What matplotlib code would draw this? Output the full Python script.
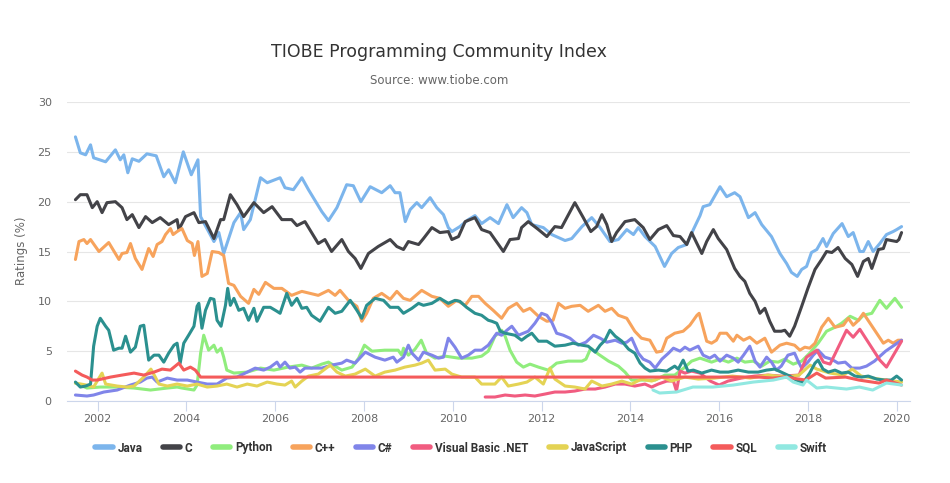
import matplotlib
matplotlib.use("Agg")
import matplotlib.pyplot as plt

# (decimal year, rating %)
java = [(2001.50, 26.5), (2001.61, 24.9), (2001.73, 24.7), (2001.84, 25.7), (2001.91, 24.4), (2002.18, 24.0),
        (2002.40, 25.2), (2002.51, 24.2), (2002.59, 24.7), (2002.68, 22.9), (2002.78, 24.3), (2002.93, 24.05),
        (2003.11, 24.8), (2003.32, 24.6), (2003.49, 22.5), (2003.60, 23.2), (2003.75, 21.9), (2003.93, 25.0),
        (2004.11, 22.7), (2004.26, 24.2), (2004.32, 18.5), (2004.39, 17.9), (2004.62, 16.0), (2004.73, 16.9),
        (2004.84, 14.8), (2005.07, 17.9), (2005.22, 18.9), (2005.29, 17.2), (2005.44, 18.2), (2005.67, 22.4),
        (2005.82, 21.9), (2006.11, 22.4), (2006.22, 21.4), (2006.41, 21.2), (2006.60, 22.4), (2006.75, 21.2),
        (2007.05, 19.0), (2007.20, 18.1), (2007.39, 19.4), (2007.61, 21.7), (2007.76, 21.6), (2007.93, 20.0),
        (2008.14, 21.5), (2008.40, 20.9), (2008.59, 21.6), (2008.70, 20.9), (2008.81, 20.9), (2008.93, 18.0),
        (2009.04, 19.2), (2009.19, 19.9), (2009.30, 19.4), (2009.49, 20.4), (2009.64, 19.4), (2009.79, 18.7),
        (2009.90, 17.4), (2009.98, 17.0), (2010.16, 17.5), (2010.35, 18.2), (2010.50, 18.6), (2010.65, 17.8),
        (2010.84, 18.4), (2011.03, 17.8), (2011.22, 19.7), (2011.36, 18.4), (2011.55, 19.4), (2011.67, 18.9),
        (2011.78, 17.7), (2012.04, 17.4), (2012.23, 16.7), (2012.53, 16.1), (2012.68, 16.3), (2012.91, 17.5),
        (2013.13, 18.4), (2013.32, 17.4), (2013.54, 16.0), (2013.73, 16.2), (2013.92, 17.2), (2014.07, 16.7),
        (2014.18, 17.4), (2014.33, 16.5), (2014.56, 15.5), (2014.77, 13.5), (2014.93, 14.8), (2015.08, 15.4),
        (2015.27, 15.7), (2015.42, 17.2), (2015.57, 18.6), (2015.64, 19.5), (2015.79, 19.7), (2016.02, 21.5),
        (2016.17, 20.5), (2016.35, 20.9), (2016.47, 20.5), (2016.66, 18.4), (2016.81, 18.9), (2016.96, 17.7),
        (2017.18, 16.5), (2017.37, 14.8), (2017.52, 13.8), (2017.63, 12.9), (2017.76, 12.5), (2017.86, 13.2),
        (2017.97, 13.5), (2018.08, 14.9), (2018.20, 15.2), (2018.34, 16.3), (2018.42, 15.5), (2018.57, 16.8),
        (2018.77, 17.8), (2018.91, 16.5), (2019.02, 16.9), (2019.17, 15.0), (2019.25, 15.0), (2019.36, 16.0),
        (2019.47, 15.0), (2019.62, 15.8), (2019.77, 16.7), (2019.92, 17.0), (2020.00, 17.2), (2020.11, 17.5)]

c_lang = [(2001.50, 20.2), (2001.61, 20.7), (2001.76, 20.7), (2001.88, 19.4), (2001.99, 20.0), (2002.10, 18.9),
          (2002.21, 19.9), (2002.40, 20.0), (2002.55, 19.4), (2002.66, 18.2), (2002.78, 18.7), (2002.93, 17.4),
          (2003.08, 18.5), (2003.23, 17.9), (2003.41, 18.4), (2003.60, 17.7), (2003.79, 18.2), (2003.83, 17.2),
          (2003.98, 18.5), (2004.17, 18.9), (2004.28, 17.9), (2004.43, 18.0), (2004.62, 16.3), (2004.77, 18.2),
          (2004.84, 18.2), (2004.99, 20.7), (2005.14, 19.7), (2005.29, 18.5), (2005.52, 19.9), (2005.74, 18.9),
          (2005.93, 19.5), (2006.15, 18.2), (2006.37, 18.2), (2006.49, 17.6), (2006.67, 18.0), (2006.97, 15.8),
          (2007.12, 16.2), (2007.27, 15.0), (2007.50, 16.2), (2007.65, 15.0), (2007.80, 14.3), (2007.93, 13.3),
          (2008.10, 14.8), (2008.32, 15.5), (2008.59, 16.2), (2008.74, 15.5), (2008.89, 15.2), (2009.00, 16.0),
          (2009.23, 15.7), (2009.34, 16.3), (2009.53, 17.4), (2009.71, 16.9), (2009.90, 17.0), (2009.98, 16.2),
          (2010.13, 16.5), (2010.28, 18.0), (2010.50, 18.4), (2010.65, 17.2), (2010.84, 16.9), (2011.03, 15.7),
          (2011.14, 15.0), (2011.29, 16.2), (2011.48, 16.3), (2011.55, 17.4), (2011.70, 18.0), (2011.93, 17.2),
          (2012.12, 16.5), (2012.30, 17.5), (2012.45, 17.4), (2012.75, 19.9), (2012.94, 18.4), (2013.11, 17.0),
          (2013.24, 17.5), (2013.36, 18.7), (2013.47, 17.7), (2013.58, 16.0), (2013.69, 16.9), (2013.88, 18.0),
          (2014.10, 18.2), (2014.29, 17.4), (2014.44, 16.2), (2014.63, 17.2), (2014.82, 17.6), (2014.97, 16.6),
          (2015.12, 16.5), (2015.27, 15.7), (2015.38, 16.9), (2015.61, 14.8), (2015.72, 16.0), (2015.87, 17.2),
          (2015.98, 16.3), (2016.17, 15.2), (2016.35, 13.3), (2016.47, 12.5), (2016.58, 12.0), (2016.69, 10.8),
          (2016.81, 10.0), (2016.92, 8.8), (2017.03, 9.3), (2017.14, 8.0), (2017.25, 7.0), (2017.40, 7.0),
          (2017.48, 7.1), (2017.59, 6.5), (2017.70, 7.5), (2017.86, 9.5), (2018.00, 11.3), (2018.16, 13.2),
          (2018.31, 14.2), (2018.42, 15.0), (2018.54, 14.9), (2018.68, 15.4), (2018.84, 14.3), (2018.99, 13.7),
          (2019.12, 12.5), (2019.25, 14.0), (2019.36, 14.3), (2019.44, 13.3), (2019.59, 15.2), (2019.70, 15.3),
          (2019.77, 16.2), (2019.88, 16.1), (2020.00, 16.0), (2020.05, 16.2), (2020.11, 16.9)]

python = [(2001.50, 1.8), (2001.76, 1.3), (2002.06, 1.4), (2002.44, 1.4), (2002.82, 1.3), (2003.19, 1.1),
          (2003.57, 1.3), (2003.79, 1.4), (2003.90, 1.3), (2004.17, 1.1), (2004.24, 1.6), (2004.32, 4.8),
          (2004.39, 6.6), (2004.50, 5.1), (2004.62, 5.6), (2004.69, 4.9), (2004.78, 5.3), (2004.84, 4.4),
          (2004.91, 3.1), (2005.07, 2.8), (2005.37, 2.9), (2005.67, 3.3), (2005.97, 3.1), (2006.29, 3.4),
          (2006.60, 3.6), (2006.82, 3.3), (2007.05, 3.7), (2007.20, 3.9), (2007.50, 3.1), (2007.73, 3.4),
          (2007.88, 4.3), (2008.01, 5.6), (2008.18, 5.0), (2008.47, 5.1), (2008.77, 5.1), (2008.85, 4.6),
          (2008.89, 5.3), (2009.00, 4.6), (2009.15, 5.2), (2009.29, 6.1), (2009.41, 4.8), (2009.60, 4.3),
          (2009.83, 4.5), (2010.13, 4.3), (2010.43, 4.3), (2010.65, 4.5), (2010.80, 5.0), (2010.95, 6.5),
          (2011.10, 7.1), (2011.18, 6.5), (2011.29, 5.1), (2011.44, 3.9), (2011.59, 3.4), (2011.74, 3.7),
          (2011.93, 3.4), (2012.15, 3.1), (2012.34, 3.8), (2012.60, 4.0), (2012.91, 4.0), (2013.00, 4.2),
          (2013.11, 5.3), (2013.28, 4.7), (2013.51, 4.0), (2013.73, 3.5), (2013.88, 2.9), (2014.03, 2.1),
          (2014.33, 2.1), (2014.56, 2.1), (2014.78, 2.6), (2015.00, 2.6), (2015.23, 3.4), (2015.38, 4.0),
          (2015.57, 4.3), (2015.83, 3.9), (2016.02, 4.2), (2016.21, 3.9), (2016.40, 4.3), (2016.58, 3.9),
          (2016.77, 4.0), (2016.96, 3.5), (2017.14, 4.0), (2017.33, 3.9), (2017.48, 4.2), (2017.67, 3.7),
          (2017.86, 4.0), (2018.04, 4.8), (2018.23, 5.8), (2018.42, 7.0), (2018.61, 7.4), (2018.76, 7.8),
          (2018.95, 8.5), (2019.14, 8.1), (2019.25, 8.6), (2019.44, 8.8), (2019.62, 10.1), (2019.77, 9.3),
          (2019.96, 10.3), (2020.11, 9.4)]

cpp = [(2001.50, 14.2), (2001.58, 16.0), (2001.69, 16.2), (2001.76, 15.8), (2001.84, 16.2), (2002.03, 15.0),
       (2002.25, 15.9), (2002.48, 14.2), (2002.55, 14.8), (2002.66, 14.9), (2002.74, 15.8), (2002.85, 14.3),
       (2003.00, 13.2), (2003.15, 15.3), (2003.25, 14.5), (2003.34, 15.7), (2003.45, 16.0), (2003.53, 16.7),
       (2003.64, 17.3), (2003.70, 16.7), (2003.79, 17.0), (2003.90, 17.3), (2004.02, 16.1), (2004.13, 15.8),
       (2004.18, 14.6), (2004.26, 16.0), (2004.35, 12.5), (2004.47, 12.8), (2004.58, 15.0), (2004.73, 14.9),
       (2004.84, 14.6), (2004.95, 11.8), (2005.07, 11.6), (2005.22, 10.5), (2005.40, 9.8), (2005.52, 11.2),
       (2005.63, 10.7), (2005.78, 11.9), (2005.97, 11.3), (2006.15, 11.3), (2006.37, 10.6), (2006.60, 11.0),
       (2006.79, 10.8), (2006.97, 10.6), (2007.20, 11.1), (2007.35, 10.6), (2007.46, 11.1), (2007.65, 10.1),
       (2007.84, 9.5), (2007.95, 8.0), (2008.06, 8.8), (2008.21, 10.3), (2008.40, 10.8), (2008.59, 10.2),
       (2008.74, 11.0), (2008.89, 10.3), (2009.04, 10.1), (2009.30, 11.1), (2009.53, 10.5), (2009.71, 10.3),
       (2009.90, 9.5), (2010.09, 10.1), (2010.28, 9.6), (2010.43, 10.5), (2010.58, 10.5), (2010.73, 9.8),
       (2010.91, 9.1), (2011.10, 8.3), (2011.25, 9.3), (2011.44, 9.8), (2011.59, 9.0), (2011.74, 9.3),
       (2011.93, 8.5), (2012.12, 8.0), (2012.26, 8.1), (2012.38, 9.8), (2012.53, 9.3), (2012.68, 9.5),
       (2012.87, 9.6), (2013.05, 9.0), (2013.28, 9.6), (2013.43, 9.0), (2013.58, 9.3), (2013.73, 8.6),
       (2013.92, 8.3), (2014.10, 7.0), (2014.25, 6.3), (2014.44, 6.1), (2014.59, 4.9), (2014.71, 5.0),
       (2014.82, 6.3), (2015.00, 6.8), (2015.19, 7.0), (2015.34, 7.6), (2015.50, 8.6), (2015.55, 8.8),
       (2015.64, 7.3), (2015.72, 6.0), (2015.83, 5.8), (2015.94, 6.1), (2016.02, 6.8), (2016.17, 6.8),
       (2016.32, 6.0), (2016.40, 6.6), (2016.55, 6.1), (2016.69, 6.4), (2016.85, 5.8), (2017.03, 6.3),
       (2017.18, 4.9), (2017.37, 5.6), (2017.52, 5.8), (2017.70, 5.6), (2017.82, 5.1), (2017.93, 5.4),
       (2018.04, 5.3), (2018.16, 5.8), (2018.31, 7.4), (2018.46, 8.3), (2018.61, 7.4), (2018.80, 7.6),
       (2018.91, 8.3), (2019.02, 7.6), (2019.14, 8.1), (2019.25, 8.8), (2019.40, 7.8), (2019.55, 6.8),
       (2019.70, 5.8), (2019.81, 6.1), (2019.92, 5.8), (2020.03, 6.1), (2020.11, 6.1)]

csharp = [(2001.50, 0.6), (2001.76, 0.5), (2001.91, 0.6), (2002.14, 0.9), (2002.44, 1.1), (2002.74, 1.6),
          (2002.96, 1.9), (2003.11, 2.3), (2003.23, 2.4), (2003.34, 1.9), (2003.57, 2.3), (2003.79, 2.1),
          (2004.02, 2.1), (2004.24, 1.9), (2004.47, 1.7), (2004.69, 1.7), (2004.91, 2.3), (2005.14, 2.4),
          (2005.37, 2.9), (2005.55, 3.3), (2005.74, 3.1), (2005.89, 3.4), (2006.04, 3.9), (2006.11, 3.4),
          (2006.22, 3.9), (2006.33, 3.3), (2006.45, 3.4), (2006.56, 2.9), (2006.67, 3.3), (2006.86, 3.3),
          (2007.05, 3.3), (2007.27, 3.6), (2007.50, 3.8), (2007.61, 4.1), (2007.80, 3.8), (2008.03, 4.9),
          (2008.25, 4.4), (2008.47, 4.1), (2008.66, 4.4), (2008.74, 3.9), (2008.89, 4.4), (2009.00, 5.6),
          (2009.08, 4.8), (2009.23, 4.1), (2009.34, 4.9), (2009.53, 4.6), (2009.68, 4.3), (2009.79, 4.4),
          (2009.90, 6.3), (2010.05, 5.4), (2010.20, 4.3), (2010.35, 4.6), (2010.50, 5.1), (2010.65, 5.1),
          (2010.80, 5.6), (2010.88, 6.1), (2010.99, 6.8), (2011.10, 6.6), (2011.22, 7.1), (2011.33, 7.5),
          (2011.48, 6.6), (2011.59, 6.8), (2011.70, 7.0), (2011.85, 7.8), (2012.00, 8.8), (2012.12, 8.6),
          (2012.23, 7.9), (2012.34, 6.8), (2012.49, 6.6), (2012.64, 6.3), (2012.83, 5.6), (2013.00, 5.9),
          (2013.17, 6.6), (2013.32, 6.3), (2013.47, 5.9), (2013.66, 6.1), (2013.81, 5.8), (2013.92, 5.9),
          (2014.03, 6.3), (2014.18, 4.8), (2014.29, 4.2), (2014.44, 3.9), (2014.56, 3.3), (2014.71, 4.2),
          (2014.86, 4.8), (2014.97, 5.3), (2015.12, 5.0), (2015.23, 5.4), (2015.34, 5.1), (2015.53, 5.5),
          (2015.64, 4.6), (2015.79, 4.3), (2015.90, 4.6), (2016.02, 4.0), (2016.17, 4.6), (2016.32, 4.3),
          (2016.43, 3.9), (2016.55, 4.6), (2016.69, 5.5), (2016.81, 4.0), (2016.92, 3.4), (2017.07, 4.4),
          (2017.18, 3.9), (2017.29, 3.1), (2017.40, 3.5), (2017.55, 4.6), (2017.70, 4.8), (2017.78, 4.0),
          (2017.86, 3.3), (2018.00, 3.9), (2018.12, 4.6), (2018.23, 5.1), (2018.38, 4.4), (2018.53, 4.2),
          (2018.68, 3.8), (2018.84, 3.9), (2018.99, 3.3), (2019.17, 3.3), (2019.32, 3.5), (2019.50, 4.0),
          (2019.75, 5.0), (2020.11, 6.1)]

vbnet = [(2010.73, 0.4), (2010.95, 0.4), (2011.18, 0.6), (2011.40, 0.5), (2011.63, 0.6), (2011.85, 0.5),
         (2012.08, 0.7), (2012.30, 0.9), (2012.53, 0.9), (2012.75, 1.0), (2012.98, 1.2), (2013.21, 1.2),
         (2013.43, 1.4), (2013.66, 1.7), (2013.88, 1.7), (2014.10, 1.5), (2014.33, 1.7), (2014.48, 1.4),
         (2014.63, 1.7), (2014.82, 2.0), (2014.97, 2.0), (2015.04, 1.0), (2015.12, 3.0), (2015.23, 2.8),
         (2015.38, 3.0), (2015.57, 2.8), (2015.80, 2.0), (2016.00, 1.6), (2016.20, 2.0), (2016.50, 2.3),
         (2016.80, 2.5), (2017.10, 2.6), (2017.40, 2.5), (2017.80, 2.6), (2017.97, 4.4), (2018.20, 5.1),
         (2018.35, 3.9), (2018.50, 3.7), (2018.87, 7.1), (2019.02, 6.4), (2019.17, 7.2), (2019.62, 4.1),
         (2019.77, 3.4), (2020.11, 6.0)]

javascript = [(2001.50, 1.8), (2001.75, 1.6), (2001.91, 1.4), (2002.03, 2.3), (2002.10, 2.8), (2002.18, 1.7),
              (2002.44, 1.5), (2002.66, 1.4), (2002.82, 1.5), (2003.04, 2.4), (2003.20, 3.2), (2003.30, 2.4),
              (2003.38, 1.7), (2003.57, 1.5), (2003.79, 1.7), (2004.02, 1.5), (2004.24, 1.7), (2004.47, 1.4),
              (2004.69, 1.5), (2004.91, 1.7), (2005.14, 1.4), (2005.37, 1.7), (2005.59, 1.5), (2005.82, 1.9),
              (2006.04, 1.7), (2006.22, 1.6), (2006.37, 2.0), (2006.45, 1.4), (2006.60, 2.0), (2006.75, 2.5),
              (2006.97, 2.7), (2007.12, 3.2), (2007.24, 3.6), (2007.39, 2.9), (2007.58, 2.5), (2007.80, 2.7),
              (2008.03, 3.2), (2008.25, 2.5), (2008.47, 2.9), (2008.70, 3.1), (2008.92, 3.4), (2009.15, 3.6),
              (2009.30, 3.8), (2009.45, 4.1), (2009.60, 3.1), (2009.83, 3.2), (2009.98, 2.7), (2010.20, 2.4),
              (2010.50, 2.4), (2010.65, 1.7), (2010.95, 1.7), (2011.10, 2.4), (2011.25, 1.5), (2011.48, 1.7),
              (2011.67, 1.9), (2011.85, 2.4), (2012.04, 1.7), (2012.19, 3.3), (2012.30, 2.2), (2012.53, 1.5),
              (2012.75, 1.4), (2012.98, 1.2), (2013.13, 2.0), (2013.36, 1.5), (2013.58, 1.7), (2013.81, 2.0),
              (2014.03, 1.7), (2014.25, 2.2), (2014.48, 2.0), (2014.71, 2.4), (2014.93, 2.0), (2015.23, 2.4),
              (2015.53, 2.2), (2015.90, 2.3), (2016.30, 2.5), (2016.70, 2.3), (2017.10, 2.6), (2017.50, 2.4),
              (2017.80, 2.6), (2018.05, 3.6), (2018.20, 3.2), (2018.50, 2.8), (2018.80, 2.6), (2019.00, 3.2),
              (2019.20, 2.5), (2019.60, 2.2), (2020.11, 1.9)]

php = [(2001.50, 1.9), (2001.61, 1.4), (2001.73, 1.5), (2001.84, 1.7), (2001.91, 5.5), (2001.99, 7.5),
       (2002.06, 8.3), (2002.18, 7.5), (2002.25, 7.1), (2002.36, 5.1), (2002.48, 5.3), (2002.55, 5.3),
       (2002.63, 6.5), (2002.74, 4.9), (2002.85, 5.4), (2002.96, 7.5), (2003.04, 7.6), (2003.15, 4.1),
       (2003.27, 4.6), (2003.38, 4.6), (2003.49, 3.9), (2003.60, 4.8), (2003.72, 5.6), (2003.79, 5.8),
       (2003.86, 3.8), (2003.94, 5.8), (2004.05, 6.6), (2004.17, 7.5), (2004.24, 9.5), (2004.28, 9.8),
       (2004.35, 7.3), (2004.43, 9.1), (2004.54, 10.3), (2004.62, 10.2), (2004.69, 8.1), (2004.78, 7.5),
       (2004.88, 9.6), (2004.93, 11.3), (2004.99, 9.6), (2005.07, 10.3), (2005.18, 9.1), (2005.29, 9.3),
       (2005.40, 8.1), (2005.52, 9.3), (2005.59, 8.0), (2005.74, 9.4), (2005.89, 9.4), (2006.04, 9.0),
       (2006.11, 8.8), (2006.26, 10.8), (2006.37, 9.6), (2006.49, 10.3), (2006.60, 9.3), (2006.71, 9.4),
       (2006.82, 8.6), (2007.01, 8.0), (2007.20, 9.4), (2007.35, 8.8), (2007.50, 9.0), (2007.69, 10.1),
       (2007.84, 9.1), (2007.95, 8.3), (2008.06, 9.6), (2008.25, 10.3), (2008.44, 10.1), (2008.59, 9.4),
       (2008.77, 9.4), (2008.89, 8.8), (2009.08, 9.3), (2009.23, 9.8), (2009.34, 9.6), (2009.53, 9.8),
       (2009.71, 10.3), (2009.90, 9.8), (2010.05, 10.1), (2010.16, 10.0), (2010.31, 9.4), (2010.50, 8.8),
       (2010.65, 8.6), (2010.80, 8.1), (2010.88, 8.0), (2010.99, 7.8), (2011.07, 7.0), (2011.18, 6.8),
       (2011.40, 6.6), (2011.55, 6.1), (2011.67, 6.5), (2011.78, 6.8), (2011.93, 6.0), (2012.12, 6.0),
       (2012.30, 5.5), (2012.53, 5.6), (2012.71, 5.8), (2012.91, 5.6), (2013.05, 5.5), (2013.21, 4.9),
       (2013.32, 5.6), (2013.43, 6.1), (2013.54, 7.1), (2013.66, 6.5), (2013.81, 6.0), (2013.96, 5.2),
       (2014.10, 4.8), (2014.22, 3.8), (2014.33, 3.3), (2014.44, 3.0), (2014.63, 3.1), (2014.82, 3.0),
       (2015.00, 3.5), (2015.08, 3.2), (2015.19, 4.1), (2015.30, 3.0), (2015.42, 3.1), (2015.61, 2.8),
       (2015.83, 3.1), (2016.02, 2.9), (2016.21, 2.9), (2016.43, 3.1), (2016.66, 2.9), (2016.88, 2.9),
       (2017.07, 3.1), (2017.25, 3.2), (2017.40, 2.9), (2017.59, 2.5), (2017.74, 2.1), (2017.89, 1.8),
       (2018.04, 2.8), (2018.16, 3.8), (2018.23, 4.1), (2018.34, 3.2), (2018.46, 2.9), (2018.61, 3.1),
       (2018.76, 2.8), (2018.91, 2.9), (2019.06, 2.5), (2019.21, 2.4), (2019.36, 2.5), (2019.55, 2.2),
       (2019.73, 2.1), (2019.88, 2.1), (2020.00, 2.5), (2020.11, 2.1)]

sql = [(2001.50, 3.0), (2001.65, 2.6), (2001.76, 2.4), (2001.88, 2.1), (2001.99, 2.1), (2002.29, 2.4),
       (2002.55, 2.6), (2002.82, 2.8), (2003.04, 2.6), (2003.27, 2.9), (2003.45, 3.2), (2003.64, 3.1),
       (2003.83, 3.8), (2003.94, 3.1), (2004.09, 3.4), (2004.20, 3.1), (2004.32, 2.4), (2016.90, 2.4),
       (2017.20, 2.3), (2017.50, 2.4), (2017.80, 2.2), (2017.95, 2.1), (2018.20, 2.8), (2018.40, 2.3),
       (2018.85, 2.4), (2019.15, 2.1), (2019.60, 1.8), (2019.77, 2.1), (2020.11, 1.6)]

swift = [(2014.51, 1.1), (2014.66, 0.8), (2015.04, 0.9), (2015.41, 1.4), (2015.86, 1.4), (2016.32, 1.6),
         (2016.77, 1.9), (2017.22, 2.1), (2017.52, 2.4), (2017.67, 1.9), (2017.89, 1.6), (2017.97, 2.1),
         (2018.20, 1.3), (2018.42, 1.4), (2018.87, 1.2), (2019.16, 1.4), (2019.46, 1.1), (2019.77, 1.8),
         (2020.11, 1.6)]

names = ["Java", "C", "Python", "C++", "C#", "Visual Basic .NET", "JavaScript", "PHP", "SQL", "Swift"]
series = [java, c_lang, python, cpp, csharp, vbnet, javascript, php, sql, swift]
colors = ["#7cb5ec", "#434348", "#90ed7d", "#f7a35c", "#8085e9",
          "#f15c80", "#e4d354", "#2b908f", "#f45b5b", "#91e8e1"]

year_ticks = [2002, 2004, 2006, 2008, 2010, 2012, 2014, 2016, 2018, 2020]
rating_ticks = [0, 5, 10, 15, 20, 25, 30]

fig = plt.figure(figsize=(9.5, 4.83), dpi=100)
ax = fig.add_axes([67 / 950, 82 / 483, 843 / 950, 299 / 483])

for name, data, col in zip(names, series, colors):
    xs = [p[0] for p in data]
    ys = [p[1] for p in data]
    ax.plot(xs, ys, color=col, lw=2.2, label=name, solid_joinstyle="round", solid_capstyle="round")

ax.set_xlim(2001.31, 2020.30)
ax.set_ylim(0, 30)
ax.set_xticks(year_ticks)
ax.set_xticklabels([str(y) for y in year_ticks])
ax.set_yticks(rating_ticks)
ax.grid(axis="y", color="#e6e6e6", lw=0.8)
ax.set_axisbelow(True)
for s in ["top", "right", "left"]:
    ax.spines[s].set_visible(False)
ax.spines["bottom"].set_color("#ccd6eb")
ax.spines["bottom"].set_linewidth(0.8)
ax.tick_params(axis="x", length=7, width=0.8, color="#ccd6eb", labelcolor="#666666", labelsize=8, pad=2)
ax.tick_params(axis="y", length=0, labelcolor="#666666", labelsize=8, pad=11)

fig.text(22 / 950, 1 - 251 / 483, "Ratings (%)", rotation=90, ha="center", va="center",
         color="#666666", fontsize=8.5)
fig.text(439 / 950, 1 - 52 / 483, "TIOBE Programming Community Index", ha="center", va="center",
         color="#333333", fontsize=12.5)
fig.text(439 / 950, 1 - 81 / 483, "Source: www.tiobe.com", ha="center", va="center",
         color="#666666", fontsize=8.5)

leg = fig.legend(loc="center", bbox_to_anchor=(461 / 950, 1 - 448 / 483), ncol=10, frameon=False,
                 handlelength=1.45, handletextpad=0.4, columnspacing=1.75,
                 prop={"family": "Roboto", "weight": "bold", "size": 8.5})
for h in leg.get_lines():
    h.set_linewidth(4)
for t in leg.get_texts():
    t.set_color("#333333")

fig.savefig("out.png", dpi=100)
